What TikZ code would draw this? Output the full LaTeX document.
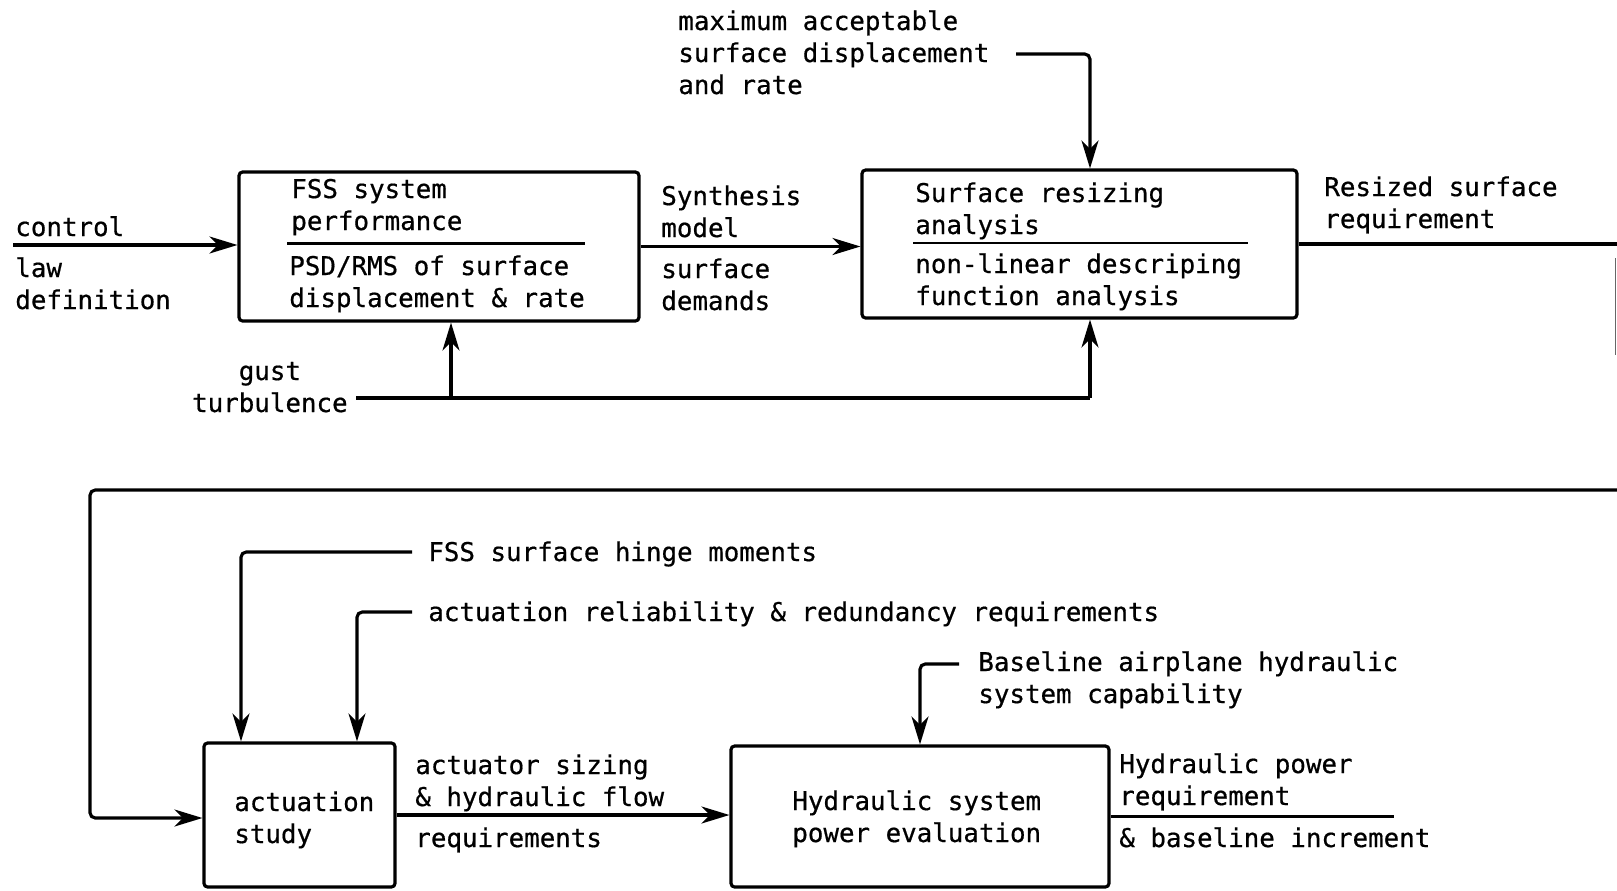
\documentclass[tikz,border=0pt]{standalone}
\usepackage{fontspec}
\newfontfamily\typewriter[FakeBold=0.6]{DejaVu Sans Mono}
\usetikzlibrary{arrows.meta,calc}

\begin{document}
\begin{tikzpicture}[x=0.02cm,y=-0.02cm,
  every node/.style={font=\typewriter\fontsize{14.7}{18.2}\selectfont, inner sep=0pt, align=left},
  box/.style={draw, line width=1.8pt, rounded corners=2pt},
  conn/.style={line width=1.8pt, rounded corners=3pt, -{Stealth[length=0.56cm,width=0.34cm,inset=0.17cm]}},
  line/.style={line width=1.8pt, rounded corners=3pt}]
  \useasboundingbox (0,0) rectangle (1617,890);

  % Upper boxes
  \node[box, minimum width=8cm, minimum height=2.98cm] (box1) at (439,246.5) {};
  \node[box, minimum width=8.7cm, minimum height=2.96cm] (box2) at (1079.5,244) {};
  \node[anchor=base west] (fss) at (291,230) {FSS system\\performance};
  \node[anchor=base west] (psd) at (289,307) {PSD/RMS of surface\\displacement \& rate};
  \node[anchor=base west] (resz) at (915,234) {Surface resizing\\analysis};
  \node[anchor=base west] (nonlin) at (915,305) {non-linear descriping\\function analysis};
  \draw[line width=1.3pt] ($(box1.west)+(50,-3)$) -- ($(box1.east)+(-56,-3)$);
  \draw[line width=1.3pt] ($(box2.west)+(53,-1)$) -- ($(box2.east)+(-51,-1)$);

  % Lower boxes
  \node[box, minimum width=3.82cm, minimum height=2.88cm] (box3) at (299.5,815) {};
  \node[box, minimum width=7.56cm, minimum height=2.82cm] (box4) at (920,816.5) {};
  \node[anchor=base west] (act) at (234,843) {actuation\\study};
  \node[anchor=base west] (hyd) at (792,842) {Hydraulic system\\power evaluation};

  % Labels on the inputs and outputs
  \node[anchor=base west] (maxacc) at (678,94) {maximum acceptable\\surface displacement\\and rate};
  \node[anchor=base west] (ctrl) at (15,236) {control};
  \node[anchor=base west] (law) at (15,309) {law\\definition};
  \node[anchor=base west] (synth) at (661,237) {Synthesis\\model};
  \node[anchor=base west] (demands) at (661,310) {surface\\demands};
  \node[anchor=base west] (resized) at (1324,228) {Resized surface\\requirement};
  \node[anchor=base east, align=center] (gust) at (348,412) {gust\\turbulence};
  \node[anchor=base west] (hinge) at (428,561) {FSS surface hinge moments};
  \node[anchor=base west] (relia) at (428,621) {actuation reliability \& redundancy requirements};
  \node[anchor=base west] (baseln) at (978,703) {Baseline airplane hydraulic\\system capability};
  \node[anchor=base west] (sizing) at (415,806) {actuator sizing\\\& hydraulic flow};
  \node[anchor=base west] (reqs) at (415,847) {requirements};
  \node[anchor=base west] (hydpow) at (1119,805) {Hydraulic power\\requirement};
  \node[anchor=base west] (incr) at (1119,847) {\& baseline increment};

  % Free ends
  \coordinate (ctrlin) at (13,245);
  \coordinate (maxin) at (1016,54);
  \coordinate (gustin) at (356,398);
  \coordinate (fbR) at (1617,490);
  \coordinate (fbL) at (90,818);
  \coordinate (hingein) at (412,552);
  \coordinate (reliain) at (412,612);
  \coordinate (basein) at (959,664);
  \coordinate (hydout) at (1394,815);

  % Upper flow
  \draw[conn] (ctrlin) -- (ctrlin -| box1.west);
  \draw[conn] (box1.east) -- (box1.east -| box2.west);
  \draw[conn] (maxin) -| ($(box2.north)+(10.5,0)$);
  \draw[line] (box2.east) -- (box2.east -| fbR);
  \draw[line] (gustin) -- (gustin -| box2.south) -- ($(gustin -| box2.south)+(10.5,0)$);
  \draw[conn] ($(gustin -| box1.south)+(12,0)$) -- ($(box1.south)+(12,0)$);
  \draw[conn] ($(gustin -| box2.south)+(10.5,0)$) -- ($(box2.south)+(10.5,0)$);
  \draw[line width=0.5pt, black!60] (1615,258) -- (1615,355);

  % Feedback to the actuation study
  \draw[conn] (fbR) -| (fbL) -- (fbL -| box3.west);
  \draw[conn] (hingein) -| ($(box3.north)+(-58.5,0)$);
  \draw[conn] (reliain) -| ($(box3.north)+(57.5,0)$);
  \draw[conn] (box3.east) -- (box3.east -| box4.west);
  \draw[conn] (basein) -| (box4.north);
  \draw[line] (box4.east) -- (box4.east -| hydout);
\end{tikzpicture}
\end{document}
